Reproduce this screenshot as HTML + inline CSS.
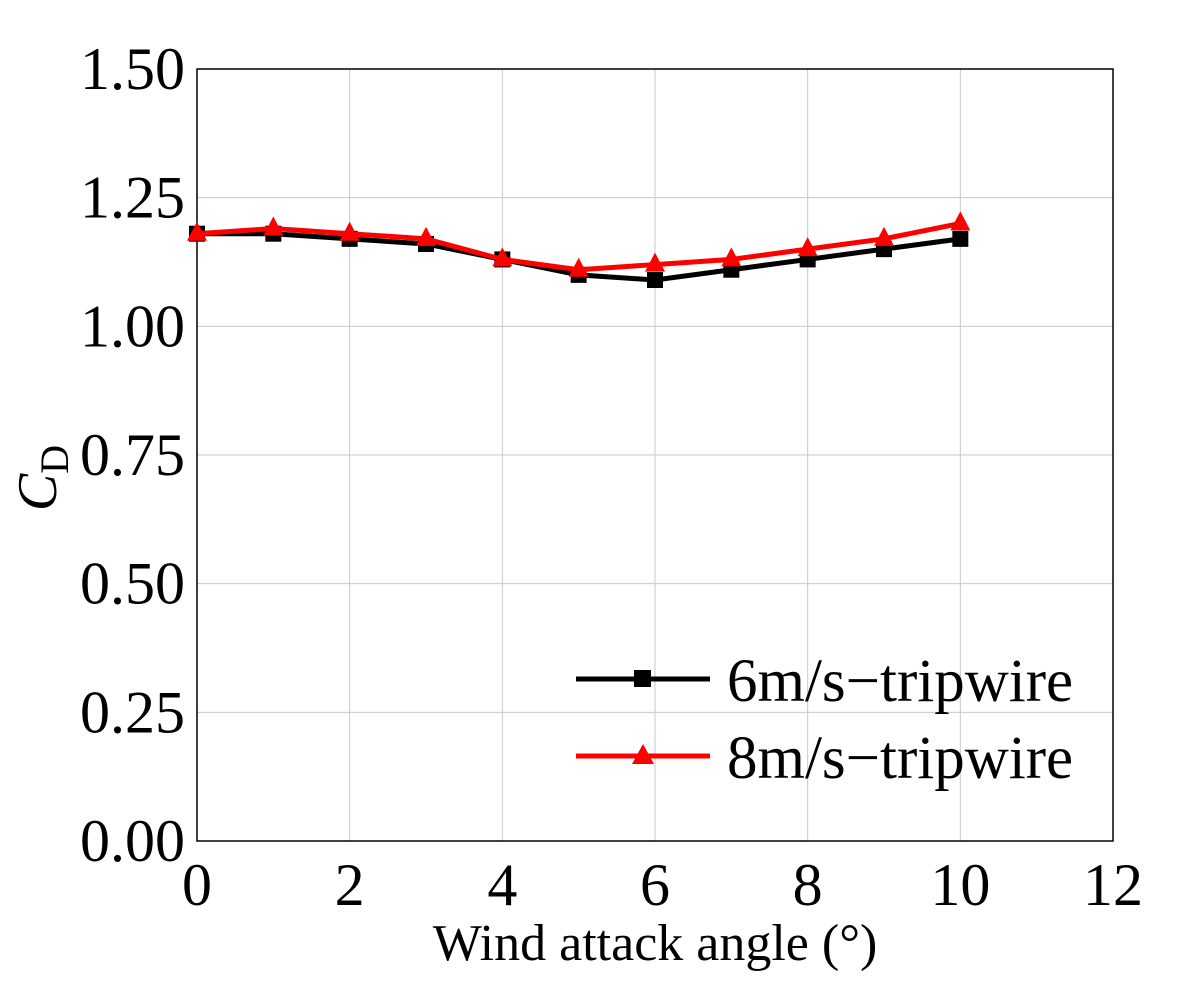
<!DOCTYPE html>
<html><head><meta charset="utf-8"><style>
body{margin:0;background:#fff}
svg{display:block;font-family:"Liberation Serif",serif}
</style></head><body>
<svg id="chart" width="1177" height="984" viewBox="0 0 1177 984">
<g id="grid"></g>
<rect x="197" y="69" width="916" height="772" fill="none" stroke="#000" stroke-width="1.5"/>
<g id="ticks"></g>
<g id="series"></g>
<text x="655" y="960" font-size="52" text-anchor="middle">Wind attack angle (°)</text>
<text transform="translate(56,478) rotate(-90)" font-size="56" text-anchor="middle"><tspan font-style="italic">C</tspan><tspan font-size="40" dy="12">D</tspan></text>
<g>
<line x1="576" y1="679" x2="710" y2="679" stroke="#000" stroke-width="5"/>
<rect x="634" y="670" width="17" height="17" fill="#000"/>
<text x="727" y="701" font-size="61">6m/s−tripwire</text>
<line x1="576" y1="756" x2="710" y2="756" stroke="#f00" stroke-width="5"/>
<polygon points="643,744 654,764 632,764" fill="#f00"/>
<text x="727" y="778" font-size="61">8m/s−tripwire</text>
</g>
</svg>
<script>
const angles=[0,1,2,3,4,5,6,7,8,9,10];
const cd6=[1.18,1.18,1.17,1.16,1.13,1.10,1.09,1.11,1.13,1.15,1.17];
const cd8=[1.18,1.19,1.18,1.17,1.13,1.11,1.12,1.13,1.15,1.17,1.20];
const xTicks=[0,2,4,6,8,10,12];
const yTicks=[0,0.25,0.5,0.75,1.0,1.25,1.5];
const yTickLabels=["0.00","0.25","0.50","0.75","1.00","1.25","1.50"];
const X0=197,X1=1113,Y0=841,Y1=69;
const sx=v=>X0+(v-0)/12*(X1-X0);
const sy=v=>Y0-(v-0)/1.5*(Y0-Y1);
const NS="http://www.w3.org/2000/svg";
function mk(t,a,p){const e=document.createElementNS(NS,t);for(const k in a)e.setAttribute(k,a[k]);p.appendChild(e);return e;}
const grid=document.getElementById('grid'),ticks=document.getElementById('ticks'),ser=document.getElementById('series');
xTicks.forEach(v=>{
 const l=mk('line',{x1:sx(v),x2:sx(v),y1:Y1,y2:Y0,stroke:'#c8c8c8','stroke-width':1},grid);
 
 
 const t=mk('text',{x:sx(v),y:905,'font-size':60,'text-anchor':'middle'},ticks);
 t.textContent=v;
 
 
});
yTicks.forEach((v,i)=>{
 const l=mk('line',{x1:X0,x2:X1,y1:sy(v),y2:sy(v),stroke:'#c8c8c8','stroke-width':1},grid);
 
 
 const t=mk('text',{x:185,y:sy(v)+20,'font-size':60,'text-anchor':'end'},ticks);
 t.textContent=yTickLabels[i];
 
 
});
function draw(vals,color,shape,name){
 const pl=mk('polyline',{points:angles.map((a,i)=>sx(a)+','+sy(vals[i])).join(' '),fill:'none',stroke:color,'stroke-width':5},ser);
 
 
 angles.forEach((a,i)=>{
  const x=sx(a),y=sy(vals[i]);let m;
  if(shape==='sq')m=mk('rect',{x:x-8,y:y-8,width:16,height:16,fill:color},ser);
  else m=mk('polygon',{points:`${x},${y-12} ${x+10},${y+7} ${x-10},${y+7}`,fill:color},ser);
  
  
 });
}
draw(cd6,'#000','sq','series-6ms');
draw(cd8,'#f00','tri','series-8ms');
</script>
</body></html>
